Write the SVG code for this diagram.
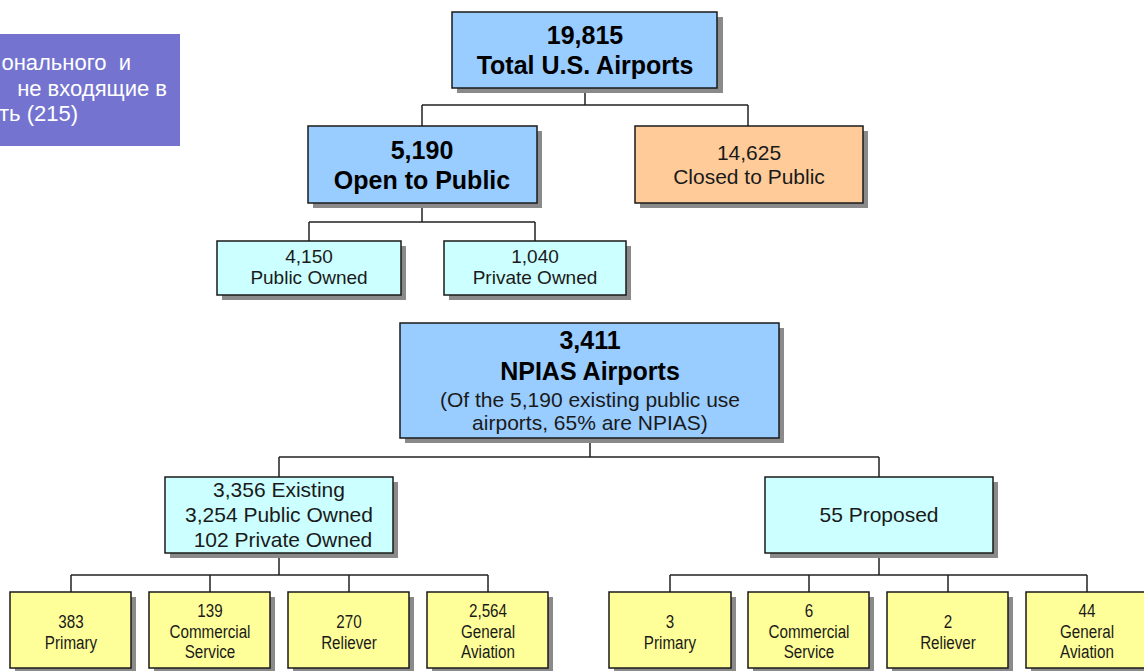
<svg xmlns="http://www.w3.org/2000/svg" width="1144" height="671" viewBox="0 0 1144 671">
<style>
.box{stroke:#1a1a1a;stroke-width:1.5}
.sh{fill:#8a8a8a}
.blue{fill:#99CCFF}
.orange{fill:#FFCC99}
.cyan{fill:#CCFFFF}
.yellow{fill:#FFFF99}
.b{font-family:"Liberation Sans",Arial,sans-serif;font-weight:bold;font-size:25px;fill:#000;text-anchor:middle}
.r{font-family:"Liberation Sans",Arial,sans-serif;font-size:21px;fill:#1a1a1a;text-anchor:middle}
.s{font-family:"Liberation Sans",Arial,sans-serif;font-size:19px;fill:#1a1a1a;text-anchor:middle}
.n{font-family:"Liberation Sans",Arial,sans-serif;font-size:19px;fill:#1a1a1a;text-anchor:middle}
.w{font-family:"Liberation Sans",Arial,sans-serif;font-size:22px;fill:#ffffff;text-anchor:end}
.c{fill:none;stroke:#222;stroke-width:1.5}
</style>

<g id="note">
<rect x="0" y="34" width="180" height="112" fill="#7474D0"/>
<text class="w" x="131" y="70" xml:space="preserve">онального  и</text>
<text class="w" x="167" y="96">не входящие в</text>
<text class="w" x="78" y="121">ть (215)</text>
</g>

<g id="connectors">
<path class="c" d="M585 88V105M422 105H748M422 105V126M748 105V126"/>
<path class="c" d="M422 203V222M309 222H535M309 222V241M535 222V241"/>
<path class="c" d="M590 438V457M279 457H879M279 457V477M879 457V477"/>
<path class="c" d="M279 553V575M71 575H488M71 575V592M210 575V592M349 575V592M488 575V592"/>
<path class="c" d="M879 553V575M670 575H1087M670 575V592M809 575V592M948 575V592M1087 575V592"/>
</g>

<g id="total">
<rect class="sh" x="457" y="17" width="266" height="76"/>
<rect class="box blue" x="452" y="12" width="265" height="76"/>
<text class="b" x="585" y="44">19,815</text>
<text class="b" x="585" y="74">Total U.S. Airports</text>
</g>

<g id="open">
<rect class="sh" x="313" y="131" width="229" height="77"/>
<rect class="box blue" x="308" y="126" width="229" height="77"/>
<text class="b" x="422" y="159">5,190</text>
<text class="b" x="422" y="189">Open to Public</text>
</g>

<g id="closed">
<rect class="sh" x="640" y="131" width="228" height="77"/>
<rect class="box orange" x="635" y="126" width="228" height="77"/>
<text class="r" x="749" y="160">14,625</text>
<text class="r" x="749" y="184">Closed to Public</text>
</g>

<g id="public-owned">
<rect class="sh" x="222" y="246" width="184" height="54"/>
<rect class="box cyan" x="217" y="241" width="184" height="54"/>
<text class="s" x="309" y="263">4,150</text>
<text class="s" x="309" y="284">Public Owned</text>
</g>

<g id="private-owned">
<rect class="sh" x="449" y="246" width="182" height="54"/>
<rect class="box cyan" x="444" y="241" width="182" height="54"/>
<text class="s" x="535" y="263">1,040</text>
<text class="s" x="535" y="284">Private Owned</text>
</g>

<g id="npias">
<rect class="sh" x="405" y="328" width="379" height="115"/>
<rect class="box blue" x="400" y="323" width="379" height="115"/>
<text class="b" x="590" y="349">3,411</text>
<text class="b" x="590" y="380">NPIAS Airports</text>
<text class="r" x="590" y="407">(Of the 5,190 existing public use</text>
<text class="r" x="590" y="430">airports, 65% are NPIAS)</text>
</g>

<g id="existing">
<rect class="sh" x="170" y="482" width="228" height="76"/>
<rect class="box cyan" x="165" y="477" width="228" height="76"/>
<text class="r" x="279" y="497">3,356 Existing</text>
<text class="r" x="279" y="522">3,254 Public Owned</text>
<text class="r" x="283" y="547">102 Private Owned</text>
</g>

<g id="proposed">
<rect class="sh" x="770" y="482" width="228" height="76"/>
<rect class="box cyan" x="765" y="477" width="228" height="76"/>
<text class="r" x="879" y="522">55 Proposed</text>
</g>

<g id="e-primary">
<rect class="sh" x="15" y="597" width="121" height="76"/>
<rect class="box yellow" x="10" y="592" width="121" height="76"/>
<g transform="translate(71 0) scale(0.8 1)">
<text class="n" x="0" y="628">383</text>
<text class="n" x="0" y="649">Primary</text>
</g>
</g>
<g id="e-commercial">
<rect class="sh" x="154" y="597" width="121" height="76"/>
<rect class="box yellow" x="149" y="592" width="121" height="76"/>
<g transform="translate(210 0) scale(0.8 1)">
<text class="n" x="0" y="617">139</text>
<text class="n" x="0" y="638">Commercial</text>
<text class="n" x="0" y="658">Service</text>
</g>
</g>
<g id="e-reliever">
<rect class="sh" x="293" y="597" width="121" height="76"/>
<rect class="box yellow" x="288" y="592" width="121" height="76"/>
<g transform="translate(349 0) scale(0.8 1)">
<text class="n" x="0" y="628">270</text>
<text class="n" x="0" y="649">Reliever</text>
</g>
</g>
<g id="e-general">
<rect class="sh" x="432" y="597" width="121" height="76"/>
<rect class="box yellow" x="427" y="592" width="121" height="76"/>
<g transform="translate(488 0) scale(0.8 1)">
<text class="n" x="0" y="617">2,564</text>
<text class="n" x="0" y="638">General</text>
<text class="n" x="0" y="658">Aviation</text>
</g>
</g>

<g id="p-primary">
<rect class="sh" x="614" y="597" width="122" height="76"/>
<rect class="box yellow" x="609" y="592" width="122" height="76"/>
<g transform="translate(670 0) scale(0.8 1)">
<text class="n" x="0" y="628">3</text>
<text class="n" x="0" y="649">Primary</text>
</g>
</g>
<g id="p-commercial">
<rect class="sh" x="753" y="597" width="121" height="76"/>
<rect class="box yellow" x="748" y="592" width="121" height="76"/>
<g transform="translate(809 0) scale(0.8 1)">
<text class="n" x="0" y="617">6</text>
<text class="n" x="0" y="638">Commercial</text>
<text class="n" x="0" y="658">Service</text>
</g>
</g>
<g id="p-reliever">
<rect class="sh" x="892" y="597" width="121" height="76"/>
<rect class="box yellow" x="887" y="592" width="121" height="76"/>
<g transform="translate(948 0) scale(0.8 1)">
<text class="n" x="0" y="628">2</text>
<text class="n" x="0" y="649">Reliever</text>
</g>
</g>
<g id="p-general">
<rect class="sh" x="1031" y="597" width="121" height="76"/>
<rect class="box yellow" x="1026" y="592" width="121" height="76"/>
<g transform="translate(1087 0) scale(0.8 1)">
<text class="n" x="0" y="617">44</text>
<text class="n" x="0" y="638">General</text>
<text class="n" x="0" y="658">Aviation</text>
</g>
</g>
</svg>
